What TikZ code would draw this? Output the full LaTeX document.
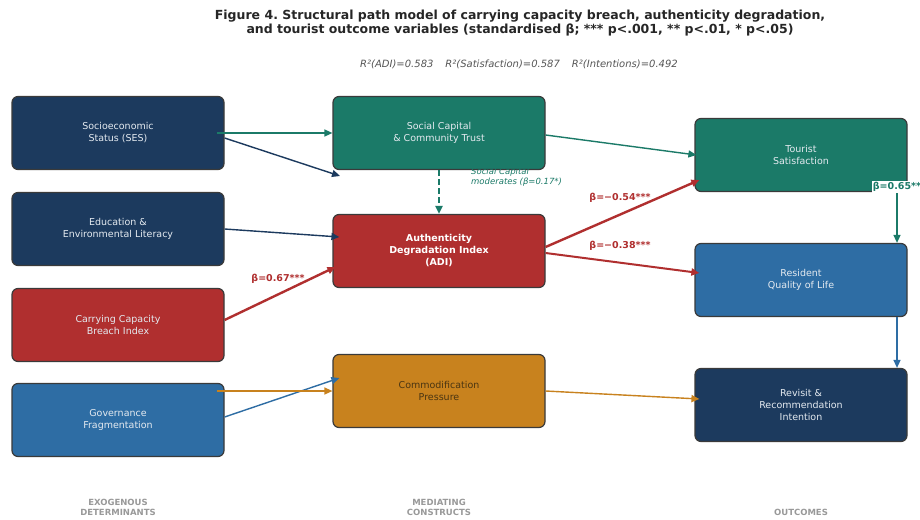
\documentclass[tikz,border=0pt]{standalone}
\usepackage{fontspec}
\setmainfont{DejaVu Sans}
\usepackage{tikz}
\usetikzlibrary{arrows.meta}
\definecolor{navy}{HTML}{1C3A5E}
\definecolor{teal}{HTML}{1B7A68}
\definecolor{brick}{HTML}{B02F2F}
\definecolor{steel}{HTML}{2E6DA4}
\definecolor{ochre}{HTML}{C8821E}
\definecolor{boxline}{HTML}{3A3A3A}
\definecolor{boxtext}{HTML}{E4EAF0}
\definecolor{ochretext}{HTML}{4A3512}
\definecolor{note}{HTML}{555555}
\frenchspacing

\begin{document}
\begin{tikzpicture}[x=1pt,y=-1pt,
  box/.style={draw=boxline, line width=1.2pt, rounded corners=6pt, minimum width=212pt, minimum height=73pt, align=center, text=boxtext, font=\fontsize{9.5}{12}\selectfont},
  link/.style={-{Triangle[length=8pt,width=7pt]}, line width=1.4pt},
  beta/.style={font=\fontsize{9.5}{11}\selectfont\bfseries},
  column/.style={text=gray!80, align=center, anchor=south, font=\fontsize{8.5}{10}\selectfont\bfseries}]
\fill[white] (0,0) rectangle (920,519);
\useasboundingbox (0,0) rectangle (920,519);

\node[font=\fontsize{12.5}{14}\selectfont\bfseries, text=black!85, align=center] (title) at (520,23)
  {Figure 4. Structural path model of carrying capacity breach, authenticity degradation,\\
   and tourist outcome variables (standardised β; *** p<.001, ** p<.01, * p<.05)};
\node[font=\fontsize{10}{12}\selectfont\itshape, text=note] (rsq) at (519,64)
  {R²(ADI)=0.583\hspace{12pt}R²(Satisfaction)=0.587\hspace{12pt}R²(Intentions)=0.492};

\node[box, fill=navy] (ses) at (118,133) {Socioeconomic\\Status (SES)};
\node[box, fill=navy] (edu) at (118,229) {Education \&\\Environmental Literacy};
\node[box, fill=brick] (ccb) at (118,325) {Carrying Capacity\\Breach Index};
\node[box, fill=steel] (gov) at (118,420) {Governance\\Fragmentation};

\node[box, fill=teal] (sc) at (439,133) {Social Capital\\\& Community Trust};
\node[box, fill=brick, text=white, font=\fontsize{9.5}{12}\selectfont\bfseries] (adi) at (439,251) {Authenticity\\Degradation Index\\(ADI)};
\node[box, fill=ochre, text=ochretext] (com) at (439,391) {Commodification\\Pressure};

\node[box, fill=teal] (ts) at (801,155) {Tourist\\Satisfaction};
\node[box, fill=steel] (qol) at (801,280) {Resident\\Quality of Life};
\node[box, fill=navy] (rev) at (801,405) {Revisit \&\\Recommendation\\Intention};

\coordinate (sesadi) at (340,176);

\draw[link, teal] ([xshift=-8pt]ses.east) -- (sc.west);
\draw[link, navy] ([yshift=-5pt]ses.east) -- (sesadi);
\draw[link, navy] (edu.east) -- ([xshift=7pt,yshift=14pt]adi.west);
\draw[link, brick, line width=2.4pt] ([yshift=5pt]ccb.east) -- ([xshift=3pt,yshift=-16pt]adi.west);
\node[beta, text=brick] (b1) at (278,279) {β=0.67***};
\draw[link, steel] ([yshift=3pt]gov.east) -- ([xshift=7pt,yshift=13pt]com.west);
\draw[link, ochre] ([xshift=-8pt,yshift=29pt]gov.east) -- (com.west);

\draw[link, teal, dash pattern=on 6pt off 3pt, line width=2.4pt] (sc.south) -- (adi.north);
\node[font=\fontsize{8.5}{10}\selectfont\itshape, text=teal, align=left, anchor=north west, inner sep=0pt] (mod) at (471,168)
  {Social Capital\\moderates (β=0.17*)};

\draw[link, teal] ([yshift=-2pt]sc.east) -- ([xshift=2pt]ts.west);
\draw[link, brick, line width=2.4pt] ([yshift=4pt]adi.east) -- ([xshift=5pt,yshift=-25pt]ts.west);
\node[beta, text=brick] (b2) at (620,198) {β=−0.54***};
\draw[link, brick, line width=2pt] ([yshift=-2pt]adi.east) -- ([xshift=5pt,yshift=7pt]qol.west);
\node[beta, text=brick] (b3) at (620,246) {β=−0.38***};
\draw[link, ochre] (com.east) -- ([xshift=5pt,yshift=6pt]rev.west);

\draw[link, teal] ([xshift=96pt]ts.south) -- ([xshift=96pt]qol.north);
\node[beta, text=teal, fill=white, inner sep=1pt] (b4) at (897,187) {β=0.65**};
\draw[link, steel] ([xshift=96pt]qol.south) -- ([xshift=96pt]rev.north);

\node[column] (c1) at (118,519) {EXOGENOUS\\DETERMINANTS};
\node[column] (c2) at (439,519) {MEDIATING\\CONSTRUCTS};
\node[column] (c3) at (801,519) {OUTCOMES};
\end{tikzpicture}
\end{document}
